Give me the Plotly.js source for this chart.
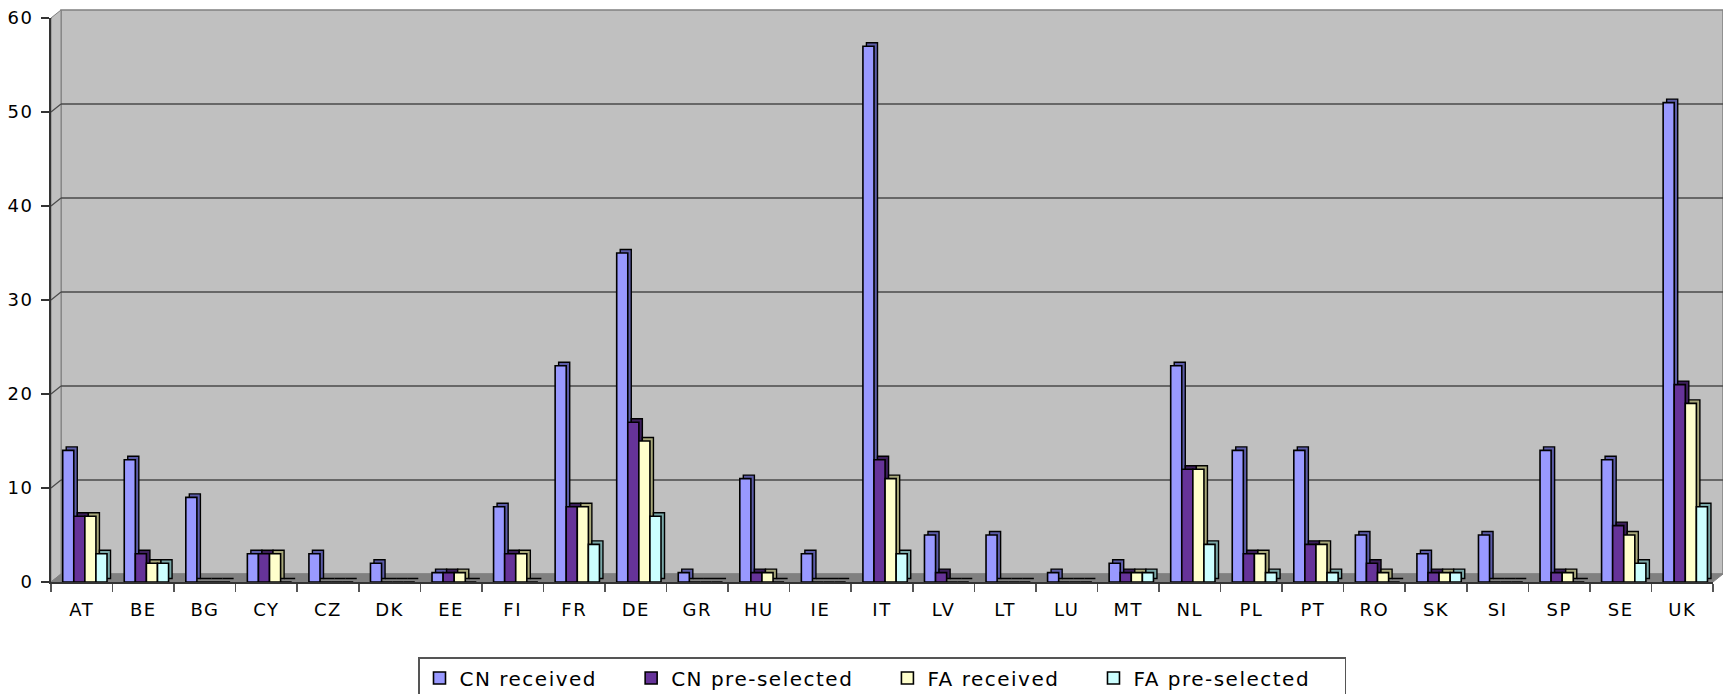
<!DOCTYPE html>
<html>
<head>
<meta charset="utf-8">
<script src="https://cdn.plot.ly/plotly-3.0.1.min.js"></script>
<style>
  html, body { margin: 0; padding: 0; background: #ffffff; overflow: hidden; }
  #chart { width: 1723px; height: 730px; }
  svg text { letter-spacing: 1.5px; }
</style>
</head>
<body>
<div id="chart"></div>
<script>
// ---- data ----
const countries = ["AT","BE","BG","CY","CZ","DK","EE","FI","FR","DE","GR","HU","IE","IT","LV","LT","LU","MT","NL","PL","PT","RO","SK","SI","SP","SE","UK"];
const cnReceived    = [14,13,9,3,3,2,1,8,23,35,1,11,3,57,5,5,1,2,23,14,14,5,3,5,14,13,51];
const cnPreselected = [7,3,0,3,0,0,1,3,8,17,0,1,0,13,1,0,0,1,12,3,4,2,1,0,1,6,21];
const faReceived    = [7,2,0,3,0,0,1,3,8,15,0,1,0,11,0,0,0,1,12,3,4,1,1,0,1,5,19];
const faPreselected = [3,2,0,0,0,0,0,0,4,7,0,0,0,3,0,0,0,1,4,1,1,0,1,0,0,2,8];
const seriesNames   = ["CN received","CN pre-selected","FA received","FA pre-selected"];
const yTicks        = [0,10,20,30,40,50,60];

// ---- styling ----
const colors     = ["#9999FF","#663399","#FFFFCC","#CCFFFF"];
const sideColors = ["#5C5CA8","#3D1F5C","#A8A87A","#7AA8A8"];
const seriesValues = [cnReceived, cnPreselected, faReceived, faPreselected];
const barWidth = 0.18;
const barOffsets = [-0.31, -0.13, 0.05, 0.23];
const pad = "\u00A0\u00A0\u00A0\u2009";

// layout geometry
const W = 1723, H = 730;
const mL = 51, mR = 10, mT = 18, mB = H - 582;
const plotW = W - mL - mR, plotH = H - mT - mB;
const dx = 10 / plotW, dy = 8 / plotH;
const yUnit = plotH / (yTicks[yTicks.length - 1] - yTicks[0]); // px per unit
const dyData = 8 / yUnit;
const catPx = plotW / countries.length;
const depthX = 3.5 / catPx;          // bar depth, category units
const depthY = 3.5 / yUnit;          // bar depth, data units

// depth (side/top) faces drawn first, behind the front faces
const depthTraces = seriesValues.map((vals, i) => ({
  type: "bar",
  name: seriesNames[i],
  showlegend: false,
  x: countries,
  y: vals,
  base: vals.map(() => depthY),
  width: barWidth,
  offset: barOffsets[i] + depthX,
  marker: { color: sideColors[i], line: { color: "#000000", width: 1.4 } },
  hoverinfo: "skip"
}));

const frontTraces = seriesValues.map((vals, i) => ({
  type: "bar",
  name: seriesNames[i] + pad,
  x: countries,
  y: vals,
  width: barWidth,
  offset: barOffsets[i],
  marker: { color: colors[i], line: { color: "#000000", width: 1.6 } },
  hoverinfo: "x+y+name"
}));

const shapes = [];
// back wall
shapes.push({ type: "rect", xref: "paper", yref: "paper", layer: "below",
  x0: dx, x1: 1 + dx, y0: dy, y1: 1 + dy,
  fillcolor: "#C0C0C0", line: { color: "#808080", width: 1.5 } });
// side wall
shapes.push({ type: "path", xref: "paper", yref: "paper", layer: "below",
  path: `M0,0 L0,1 L${dx},${1 + dy} L${dx},${dy} Z`,
  fillcolor: "#C0C0C0", line: { color: "#808080", width: 1 } });
// floor
shapes.push({ type: "path", xref: "paper", yref: "paper", layer: "below",
  path: `M0,0 L1,0 L${1 + dx},${dy} L${dx},${dy} Z`,
  fillcolor: "#808080", line: { color: "#808080", width: 1 } });
// gridlines on back wall + connectors
yTicks.forEach(v => {
  if (v === 0) return;
  shapes.push({ type: "line", xref: "paper", yref: "y", layer: "below",
    x0: dx, x1: 1 + dx, y0: v + dyData, y1: v + dyData,
    line: { color: "#4a4a4a", width: 1.5 } });
  shapes.push({ type: "line", xref: "paper", yref: "y", layer: "below",
    x0: 0, x1: dx, y0: v, y1: v + dyData,
    line: { color: "#4a4a4a", width: 1.2 } });
});

const layout = {
  width: W, height: H,
  margin: { l: mL, r: mR, t: mT, b: mB, pad: 0 },
  paper_bgcolor: "#ffffff",
  plot_bgcolor: "rgba(0,0,0,0)",
  barmode: "group",
  showlegend: true,
  font: { family: "DejaVu Sans, Verdana, sans-serif", size: 18, color: "#000000" },
  xaxis: {
    type: "category",
    showgrid: false,
    showline: true, linecolor: "#333333", linewidth: 2,
    ticks: "outside", tickson: "boundaries", ticklen: 8, tickcolor: "#555555", tickwidth: 1.5,
    tickangle: 0,
    ticklabelstandoff: 10,
    tickfont: { size: 18, color: "#000000" },
    range: [-0.5, countries.length - 0.5],
    fixedrange: true
  },
  yaxis: {
    range: [yTicks[0], yTicks[yTicks.length - 1]],
    tickvals: yTicks,
    ticktext: yTicks.map(String),
    showgrid: false, zeroline: false,
    showline: true, linecolor: "#333333", linewidth: 2,
    ticks: "outside", ticklen: 8, tickcolor: "#333333", tickwidth: 1.5,
    ticklabelstandoff: 4,
    tickfont: { size: 18, color: "#000000" },
    fixedrange: true
  },
  legend: {
    orientation: "h",
    x: 0.5, xanchor: "center",
    y: -(657 - 582) / plotH, yanchor: "top",
    bgcolor: "#ffffff",
    bordercolor: "#555555", borderwidth: 1.5,
    font: { size: 20, color: "#000000" },
    traceorder: "normal"
  },
  shapes: shapes
};

Plotly.newPlot("chart", depthTraces.concat(frontTraces), layout, { displayModeBar: false, staticPlot: true });
</script>
</body>
</html>
